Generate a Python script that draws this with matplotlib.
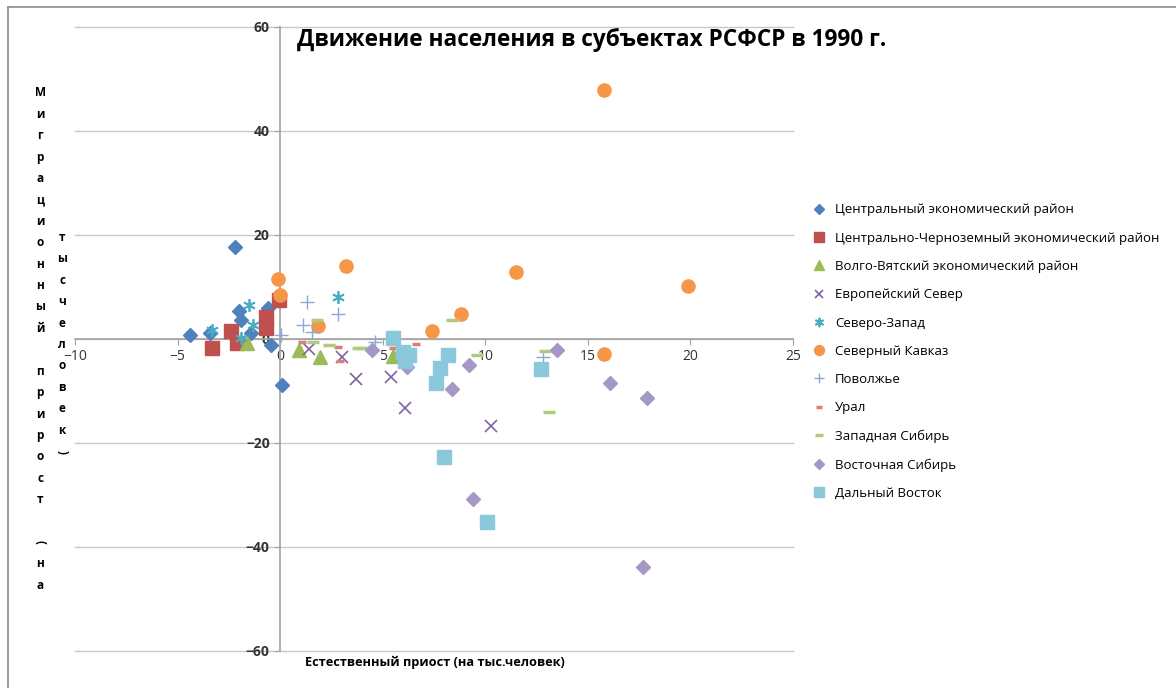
import matplotlib
matplotlib.use("Agg")
import matplotlib.pyplot as plt
from matplotlib.lines import Line2D

plt.rcParams['font.family'] = ['Open Sans', 'DejaVu Sans']

# natural growth (x) / migration growth (y), per region
central_x = [-2.2, -4.4, -3.4, -2.4, -2.0, -1.9, -1.4, -0.6, -0.45, 0.1]
central_y = [17.6, 0.8, 1.2, 1.4, 5.4, 3.7, 1.2, 6.0, -1.2, -8.8]
chern_x = [-3.3, -2.4, -2.1, -0.7, -0.7, -0.05]
chern_y = [-1.8, 1.5, -0.8, 2.2, 4.2, 7.5]
volga_x = [-1.6, 0.9, 1.95, 5.5]
volga_y = [-0.8, -2.1, -3.4, -3.2]
eunorth_x = [1.4, 3.0, 3.7, 5.4, 6.1, 10.3]
eunorth_y = [-1.9, -3.4, -7.6, -7.3, -13.2, -16.7]
nw_x = [-1.5, -3.3, -1.3, -1.9, 2.8]
nw_y = [6.5, 1.7, 2.7, 0.2, 8.1]
cauc_x = [-0.1, 0.0, 3.2, 1.85, 7.4, 8.8, 11.5, 15.8, 15.8, 19.9]
cauc_y = [11.5, 8.5, 14.0, 2.5, 1.5, 4.8, 12.9, 47.9, -2.9, 10.2]
povol_x = [1.3, 2.8, 1.1, 1.55, 0.05, 4.6, 12.8]
povol_y = [7.2, 4.8, 2.7, 1.4, 0.8, -0.5, -3.5]
ural_x = [1.05, 2.8, 2.9, 5.5, 6.6]
ural_y = [-0.5, -1.5, -4.3, -1.8, -1.0]
wsib_x = [1.6, 1.8, 2.4, 3.8, 4.0, 8.4, 9.6, 12.9, 13.1]
wsib_y = [-0.5, 3.7, -1.2, -1.7, -1.8, 3.7, -3.1, -2.4, -14.1]
esib_x = [4.5, 6.2, 8.4, 9.2, 9.4, 13.5, 16.1, 17.9, 17.7]
esib_y = [-2.1, -5.3, -9.6, -5.0, -30.8, -2.1, -8.4, -11.4, -43.8]
fareast_x = [5.5, 6.0, 6.3, 6.1, 7.6, 7.8, 8.2, 8.0, 10.1, 12.7]
fareast_y = [0.2, -2.5, -3.0, -4.3, -8.4, -5.6, -3.1, -22.7, -35.2, -5.8]

labels = ['Центральный экономический район',
          'Центрально-Черноземный экономический район',
          'Волго-Вятский экономический район',
          'Европейский Север',
          'Северо-Запад',
          'Северный Кавказ',
          'Поволжье',
          'Урал',
          'Западная Сибирь',
          'Восточная Сибирь',
          'Дальный Восток']

fig = plt.figure(figsize=(11.76, 6.88), dpi=100)
ax = fig.add_axes([75/1176, 37/688, 718/1176, 624/688])

ax.plot(central_x, central_y, ls='none', marker='D', ms=6.8, color='#4F81BD', label=labels[0])
ax.plot(chern_x, chern_y, ls='none', marker='s', ms=9.5, color='#C0504D', label=labels[1])
ax.plot(volga_x, volga_y, ls='none', marker='^', ms=9.5, color='#9BBB59', label=labels[2])
ax.plot(eunorth_x, eunorth_y, ls='none', marker='x', ms=8.5, mew=1.2, color='#8064A2', label=labels[3])
ax.plot(nw_x, nw_y, ls='none', marker=(6, 2, 0), ms=9, mew=1.3, color='#4BACC6', label=labels[4])
ax.plot(cauc_x, cauc_y, ls='none', marker='o', ms=9.5, color='#F79646', label=labels[5])
ax.plot(povol_x, povol_y, ls='none', marker='+', ms=10, mew=1.0, color='#8DA6D8', label=labels[6])
ax.plot(ural_x, ural_y, ls='none', marker='_', ms=6, mew=2.5, color='#D9807D', label=labels[7])
ax.plot(wsib_x, wsib_y, ls='none', marker='_', ms=8, mew=2.5, color='#AFCB7E', label=labels[8])
ax.plot(esib_x, esib_y, ls='none', marker='D', ms=6.8, color='#A597C6', label=labels[9])
ax.plot(fareast_x, fareast_y, ls='none', marker='s', ms=10, color='#8CC8DC', label=labels[10])

ax.set_xlim(-10, 25)
ax.set_ylim(-60, 60)
ax.set_xticks([-10, -5, 0, 5, 10, 15, 20, 25])
ax.set_yticks([-60, -40, -20, 0, 20, 40, 60])

ax.spines['left'].set_position('zero')
ax.spines['bottom'].set_position('zero')
ax.spines['right'].set_visible(False)
ax.spines['top'].set_visible(False)
for s in ['left', 'bottom']:
    ax.spines[s].set_color('#A0A0A0')
    ax.spines[s].set_linewidth(1.2)
    ax.spines[s].set_zorder(1)
ax.yaxis.grid(True, color='#C8C8C8', lw=1.0)
for gl in ax.get_ygridlines():
    gl.set_clip_on(False)
ax.set_axisbelow(True)
ax.tick_params(axis='both', direction='out', length=4, color='#A0A0A0',
               labelsize=10, labelcolor='#333333')
for t in ax.get_yticklabels():
    t.set_fontweight('bold')

fig.text(592/1176, 1-40/688, 'Движение населения в субъектах РСФСР в 1990 г.',
         ha='center', va='center', fontsize=16.3, fontweight='bold')
fig.text(435/1176, 1-662/688, 'Естественный приост (на тыс.человек)',
         ha='center', va='center', fontsize=9.2, fontweight='bold')

# stacked y-axis title, one letter per line, two columns
col1 = list('Миграционный прирост (на')
col2 = list('тысчеловек)')
for i, ch in enumerate(col1):
    rot = -90 if ch == '(' else 0
    fig.text(40/1176, 1-(93+i*21.4)/688, ch, ha='center', va='center',
             fontsize=8.5, fontweight='bold', rotation=rot)
for i, ch in enumerate(col2):
    rot = -90 if ch == ')' else 0
    fig.text(62/1176, 1-(237+i*21.5)/688, ch, ha='center', va='center',
             fontsize=8.5, fontweight='bold', rotation=rot)

ax.legend(loc='upper left', bbox_to_anchor=(808/1176, 1-198/688),
          bbox_transform=fig.transFigure, frameon=False, fontsize=9.5,
          labelspacing=1.16, handlelength=0.9, handletextpad=0.75, markerscale=0.75,
          borderaxespad=0)

# outer chart-area frame (left and top edges visible)
fig.add_artist(Line2D([8/1176, 8/1176], [0, 1-7/688], transform=fig.transFigure,
                      color='#8C8C8C', lw=1.2))
fig.add_artist(Line2D([8/1176, 1], [1-7/688, 1-7/688], transform=fig.transFigure,
                      color='#8C8C8C', lw=1.2))

fig.savefig('out.png', dpi=100)
